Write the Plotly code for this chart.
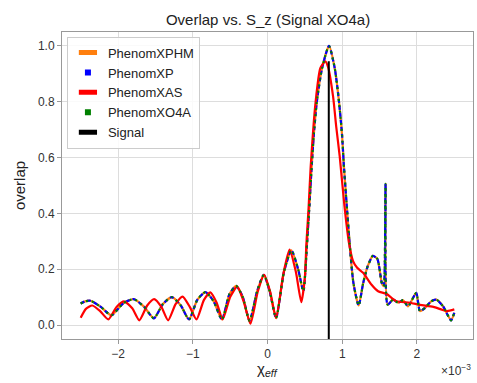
import plotly.graph_objects as go

# chi_eff in units of 1e-3
chi_xp = [-2.50, -2.44, -2.37, -2.23, -2.09, -1.93, -1.79, -1.65, -1.52, -1.40, -1.28, -1.16,
          -1.05, -0.94, -0.83, -0.72, -0.61, -0.51, -0.42, -0.33, -0.24, -0.14, -0.05, 0.03,
          0.115, 0.22, 0.32, 0.41, 0.48, 0.528, 0.564, 0.59, 0.62, 0.66, 0.73, 0.823, 0.90,
          0.957, 0.997, 1.024, 1.056, 1.10, 1.15, 1.22, 1.28, 1.34, 1.41, 1.47, 1.53, 1.555,
          1.58, 1.607, 1.68, 1.75, 1.816, 1.88, 1.99, 2.04, 2.11, 2.19, 2.26, 2.35, 2.456, 2.50]
overlap_xp = [0.077, 0.085, 0.087, 0.065, 0.035, 0.078, 0.093, 0.065, 0.024, 0.075, 0.100, 0.070,
              0.020, 0.090, 0.118, 0.085, 0.020, 0.110, 0.140, 0.100, 0.015, 0.120, 0.180, 0.120,
              0.025, 0.190, 0.268, 0.200, 0.121, 0.289, 0.444, 0.563, 0.683, 0.800, 0.920, 1.000, 0.920,
              0.800, 0.683, 0.563, 0.444, 0.289, 0.150, 0.070, 0.150, 0.210, 0.248, 0.237, 0.150, 0.139,
              0.506, 0.073, 0.091, 0.080, 0.089, 0.067, 0.115, 0.050, 0.062, 0.085, 0.091, 0.067, 0.017, 0.044]

chi_xas = [-2.50, -2.43, -2.345, -2.24, -2.13, -2.02, -1.92, -1.81, -1.715, -1.61, -1.517, -1.42,
           -1.33, -1.23, -1.137, -1.04, -0.95, -0.85, -0.765, -0.68, -0.60, -0.50, -0.405, -0.32,
           -0.228, -0.13, -0.045, 0.035, 0.115, 0.21, 0.295, 0.38, 0.452, 0.50, 0.52, 0.55, 0.577,
           0.644, 0.707, 0.774, 0.81, 0.877, 0.92, 0.966, 1.03, 1.09, 1.145, 1.20, 1.28, 1.39,
           1.48, 1.59, 1.727, 1.906, 2.04, 2.22, 2.40, 2.50]
overlap_xas = [0.026, 0.058, 0.070, 0.050, 0.020, 0.065, 0.085, 0.060, 0.017, 0.070, 0.093, 0.065,
               0.017, 0.075, 0.102, 0.065, 0.020, 0.090, 0.117, 0.080, 0.020, 0.100, 0.138, 0.085,
               0.005, 0.120, 0.180, 0.120, 0.025, 0.180, 0.270, 0.190, 0.082, 0.170, 0.289, 0.420, 0.563,
               0.800, 0.920, 0.945, 0.925, 0.820, 0.710, 0.605, 0.426, 0.295, 0.229, 0.205, 0.187, 0.145,
               0.121, 0.112, 0.085, 0.080, 0.072, 0.065, 0.050, 0.056]

signal_chi = [0.82, 0.82]
signal_overlap = [-0.06, 0.945]

x_ticks = [-2, -1, 0, 1, 2]
x_tick_labels = ["\u22122", "\u22121", "0", "1", "2"]
y_ticks = [0.0, 0.2, 0.4, 0.6, 0.8, 1.0]
y_tick_labels = ["0.0", "0.2", "0.4", "0.6", "0.8", "1.0"]

FONT = "Liberation Sans, Arial, Helvetica, sans-serif"
LW = 2.2
SM = 0.6

fig = go.Figure()
fig.add_trace(go.Scatter(x=chi_xp, y=overlap_xp, mode="lines", name="PhenomXPHM",
                         line=dict(color="#ff7f0e", width=LW, shape="spline", smoothing=SM),
                         showlegend=False))
fig.add_trace(go.Scatter(x=chi_xp, y=overlap_xp, mode="lines", name="PhenomXP",
                         line=dict(color="#0000ff", width=LW, dash="4px,3px", shape="spline", smoothing=SM),
                         showlegend=False))
fig.add_trace(go.Scatter(x=chi_xas, y=overlap_xas, mode="lines", name="PhenomXAS",
                         line=dict(color="#ff0000", width=LW, shape="spline", smoothing=SM),
                         showlegend=False))
fig.add_trace(go.Scatter(x=chi_xp, y=overlap_xp, mode="lines", name="PhenomXO4A",
                         line=dict(color="#008000", width=LW, dash="2px,4px", shape="spline", smoothing=SM),
                         showlegend=False))
fig.add_trace(go.Scatter(x=signal_chi, y=signal_overlap, mode="lines", name="Signal",
                         line=dict(color="#000000", width=2), showlegend=False))

# legend handles
legend_items = [("PhenomXPHM", "#ff7f0e", True), ("PhenomXP", "#0000ff", False),
                ("PhenomXAS", "#ff0000", True), ("PhenomXO4A", "#008000", False),
                ("Signal", "#000000", True)]
for name, col, wide in legend_items:
    if wide:
        mk = dict(symbol="line-ew", size=13, color=col, line=dict(color=col, width=6))
    else:
        mk = dict(symbol="square", size=6, color=col, line=dict(width=0))
    fig.add_trace(go.Scatter(x=[None], y=[None], mode="markers", name=name, marker=mk))

axis_common = dict(showline=True, linecolor="#999999", linewidth=1, mirror=True,
                   ticks="outside", ticklen=4, tickcolor="#999999", tickwidth=1,
                   showgrid=True, gridcolor="#dddddd", gridwidth=1, zeroline=False,
                   tickfont=dict(family=FONT, size=12, color="#333333"))

fig.update_layout(
    width=477, height=383,
    margin=dict(l=62, r=4, t=32, b=44),
    paper_bgcolor="white", plot_bgcolor="white",
    title=dict(text="Overlap vs. S_z (Signal XO4a)", x=0.562, xanchor="center", y=0.948, yanchor="middle",
               font=dict(family=FONT, size=15, color="#222222")),
    xaxis=dict(range=[-2.75, 2.75], tickvals=x_ticks, ticktext=x_tick_labels, **axis_common),
    yaxis=dict(range=[-0.05, 1.05], tickvals=y_ticks, ticktext=y_tick_labels,
               title=dict(text="overlap", font=dict(family=FONT, size=15, color="#222222"), standoff=8),
               **axis_common),
    legend=dict(x=0.012, y=0.985, xanchor="left", yanchor="top",
                bgcolor="rgba(255,255,255,0.85)", bordercolor="#cccccc", borderwidth=1,
                font=dict(family=FONT, size=13, color="#222222"), itemwidth=30, tracegroupgap=0),
    showlegend=True,
)

fig.add_annotation(text="\u03c7<sub><i>eff</i></sub>", xref="paper", yref="paper",
                   x=0.5, y=-0.1, xanchor="center", yanchor="middle", showarrow=False,
                   font=dict(family=FONT, size=15, color="#222222"))
fig.add_annotation(text="\u00d710<sup>\u22123</sup>", xref="paper", yref="paper",
                   x=1.0, y=-0.1, xanchor="right", yanchor="middle", showarrow=False,
                   font=dict(family=FONT, size=12, color="#333333"))

fig.write_html("out.html")
